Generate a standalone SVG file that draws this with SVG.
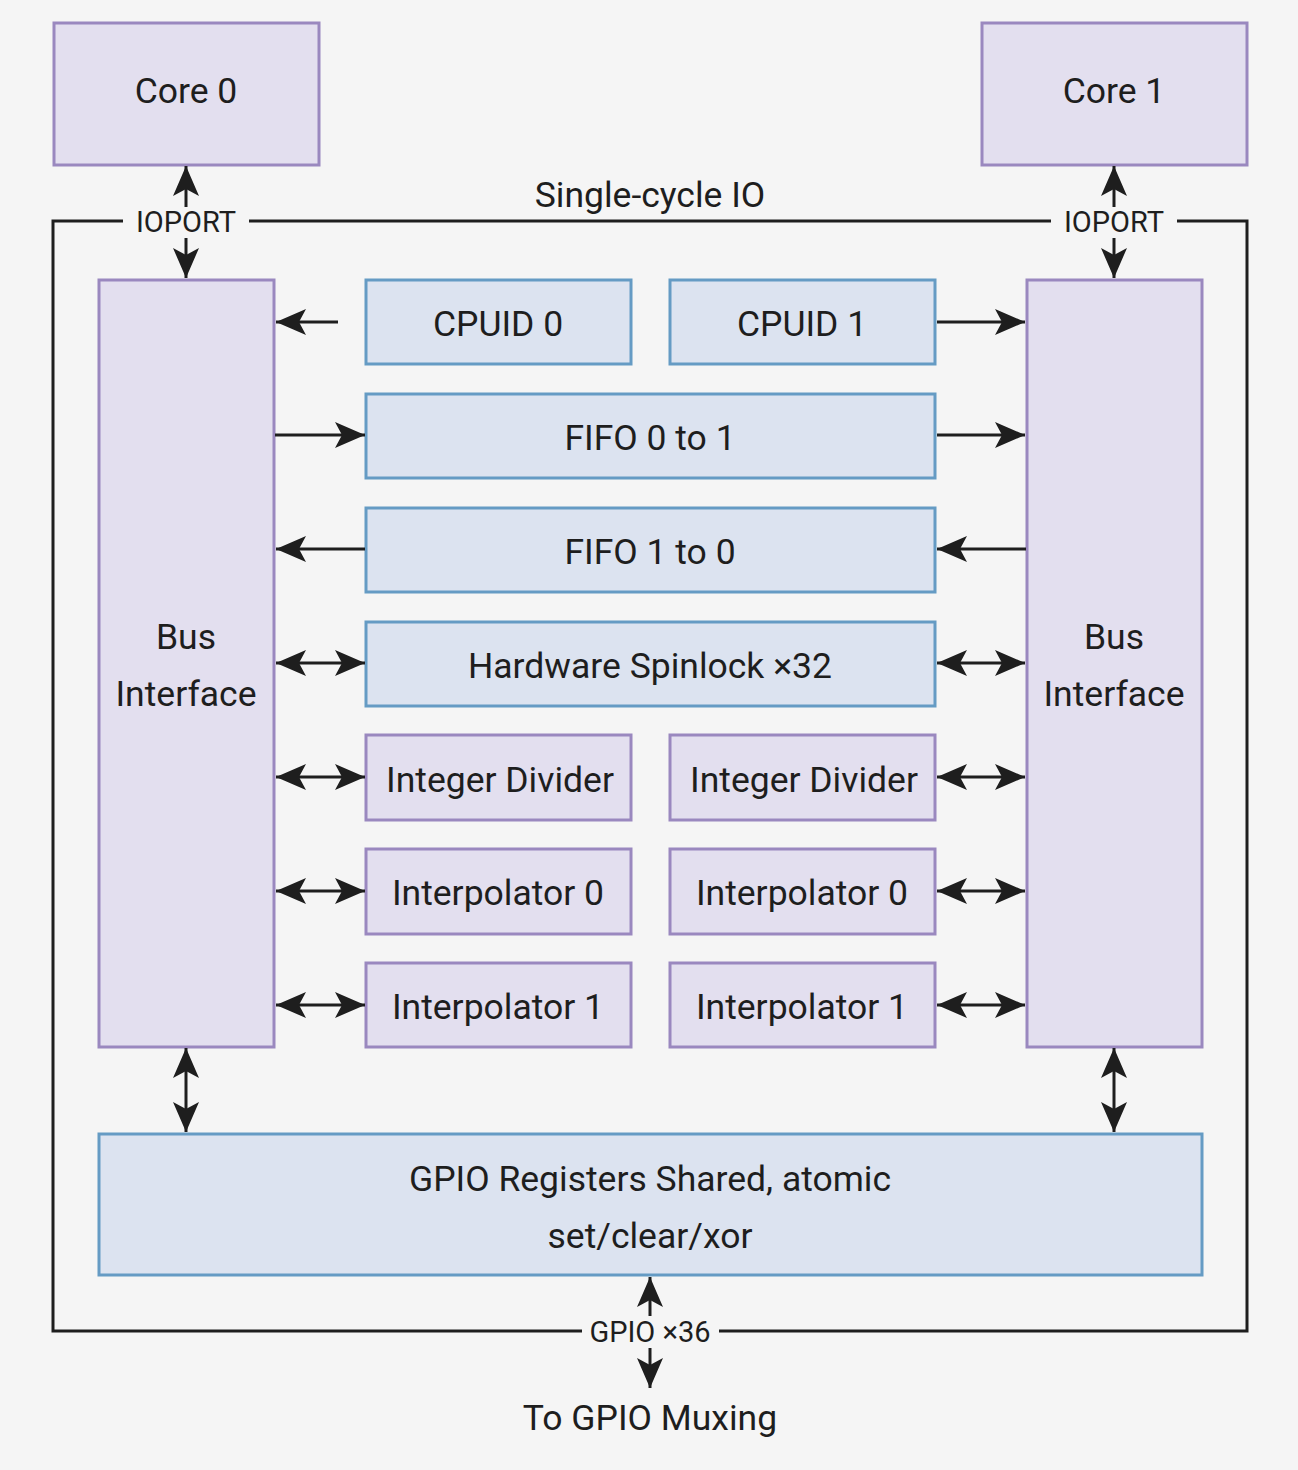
<svg xmlns="http://www.w3.org/2000/svg" width="1298" height="1470" viewBox="0 0 1298 1470">
  <style>
    .bg { fill: #f5f5f5; }
    .purple { fill: #e3dfef; stroke: #9a88bf; stroke-width: 3; }
    .blue { fill: #dce3f0; stroke: #659bc4; stroke-width: 3; }
    .label { font-family: Roboto, "Liberation Sans", sans-serif; font-size: 35.5px; fill: #1e1e1e; text-anchor: middle; }
    .small { font-family: Roboto, "Liberation Sans", sans-serif; font-size: 29px; fill: #1e1e1e; text-anchor: middle; }
    .frame { fill: none; stroke: #1e1e1e; stroke-width: 3; }
    .wire { fill: none; stroke: #1e1e1e; stroke-width: 3; marker-end: url(#head); }
    .wire2 { fill: none; stroke: #1e1e1e; stroke-width: 3; marker-start: url(#head); marker-end: url(#head); }
  </style>
  <defs>
    <marker id="head" markerUnits="userSpaceOnUse" viewBox="-31 -14 32 28" markerWidth="32" markerHeight="28" refX="0" refY="0" orient="auto-start-reverse">
      <path d="M0,0 L-30,-13 L-23,0 L-30,13 Z" fill="#1e1e1e"/>
    </marker>
  </defs>

  <rect class="bg" x="0" y="0" width="1298" height="1470"/>

  <!-- Single-cycle IO boundary -->
  <g id="frame">
    <path class="frame" d="M123,221 H53 V1331 H582 M719,1331 H1247 V221 H1177 M1051,221 H249"/>
    <text class="label" x="650" y="207">Single-cycle IO</text>
    <text class="small" x="186" y="232">IOPORT</text>
    <text class="small" x="1114" y="232">IOPORT</text>
    <text class="small" x="650" y="1342">GPIO ×36</text>
    <text class="label" x="650" y="1430">To GPIO Muxing</text>
  </g>

  <g id="core0">
    <rect class="purple" x="54" y="23" width="265" height="142"/>
    <text class="label" x="186" y="103">Core 0</text>
  </g>
  <g id="core1">
    <rect class="purple" x="982" y="23" width="265" height="142"/>
    <text class="label" x="1114" y="103">Core 1</text>
  </g>

  <g id="bus0">
    <rect class="purple" x="99" y="280" width="175" height="767"/>
    <text class="label" x="186" y="649">Bus</text>
    <text class="label" x="186" y="706">Interface</text>
  </g>
  <g id="bus1">
    <rect class="purple" x="1027" y="280" width="175" height="767"/>
    <text class="label" x="1114" y="649">Bus</text>
    <text class="label" x="1114" y="706">Interface</text>
  </g>

  <g id="cpuid0">
    <rect class="blue" x="366" y="280" width="265" height="84"/>
    <text class="label" x="498" y="336">CPUID 0</text>
  </g>
  <g id="cpuid1">
    <rect class="blue" x="670" y="280" width="265" height="84"/>
    <text class="label" x="802" y="336">CPUID 1</text>
  </g>
  <g id="fifo01">
    <rect class="blue" x="366" y="394" width="569" height="84"/>
    <text class="label" x="650" y="450">FIFO 0 to 1</text>
  </g>
  <g id="fifo10">
    <rect class="blue" x="366" y="508" width="569" height="84"/>
    <text class="label" x="650" y="564">FIFO 1 to 0</text>
  </g>
  <g id="spinlock">
    <rect class="blue" x="366" y="622" width="569" height="84"/>
    <text class="label" x="650" y="678">Hardware Spinlock ×32</text>
  </g>
  <g id="div0">
    <rect class="purple" x="366" y="735" width="265" height="85"/>
    <text class="label" x="500" y="792">Integer Divider</text>
  </g>
  <g id="div1">
    <rect class="purple" x="670" y="735" width="265" height="85"/>
    <text class="label" x="804" y="792">Integer Divider</text>
  </g>
  <g id="interp0a">
    <rect class="purple" x="366" y="849" width="265" height="85"/>
    <text class="label" x="498" y="905">Interpolator 0</text>
  </g>
  <g id="interp0b">
    <rect class="purple" x="670" y="849" width="265" height="85"/>
    <text class="label" x="802" y="905">Interpolator 0</text>
  </g>
  <g id="interp1a">
    <rect class="purple" x="366" y="963" width="265" height="84"/>
    <text class="label" x="498" y="1019">Interpolator 1</text>
  </g>
  <g id="interp1b">
    <rect class="purple" x="670" y="963" width="265" height="84"/>
    <text class="label" x="802" y="1019">Interpolator 1</text>
  </g>

  <g id="gpio">
    <rect class="blue" x="99" y="1134" width="1103" height="141"/>
    <text class="label" x="650" y="1191">GPIO Registers Shared, atomic</text>
    <text class="label" x="650" y="1248">set/clear/xor</text>
  </g>

  <g id="connectors">
    <!-- IOPORT links -->
    <line class="wire" x1="186" y1="207" x2="186" y2="166"/>
    <line class="wire" x1="186" y1="238" x2="186" y2="278"/>
    <line class="wire" x1="1114" y1="207" x2="1114" y2="166"/>
    <line class="wire" x1="1114" y1="238" x2="1114" y2="278"/>
    <!-- CPUID -->
    <line class="wire" x1="338" y1="322" x2="276" y2="322"/>
    <line class="wire" x1="937" y1="322" x2="1025" y2="322"/>
    <!-- FIFOs -->
    <line class="wire" x1="275" y1="435" x2="365" y2="435"/>
    <line class="wire" x1="937" y1="435" x2="1025" y2="435"/>
    <line class="wire" x1="365" y1="549" x2="276" y2="549"/>
    <line class="wire" x1="1026" y1="549" x2="937" y2="549"/>
    <!-- bidirectional peripherals -->
    <line class="wire2" x1="276" y1="663" x2="365" y2="663"/>
    <line class="wire2" x1="937" y1="663" x2="1025" y2="663"/>
    <line class="wire2" x1="276" y1="777" x2="365" y2="777"/>
    <line class="wire2" x1="937" y1="777" x2="1025" y2="777"/>
    <line class="wire2" x1="276" y1="891" x2="365" y2="891"/>
    <line class="wire2" x1="937" y1="891" x2="1025" y2="891"/>
    <line class="wire2" x1="276" y1="1005" x2="365" y2="1005"/>
    <line class="wire2" x1="937" y1="1005" x2="1025" y2="1005"/>
    <!-- bus to GPIO -->
    <line class="wire2" x1="186" y1="1048" x2="186" y2="1132"/>
    <line class="wire2" x1="1114" y1="1048" x2="1114" y2="1132"/>
    <!-- GPIO pins -->
    <line class="wire" x1="650" y1="1316" x2="650" y2="1277"/>
    <line class="wire" x1="650" y1="1348" x2="650" y2="1388"/>
  </g>
</svg>
